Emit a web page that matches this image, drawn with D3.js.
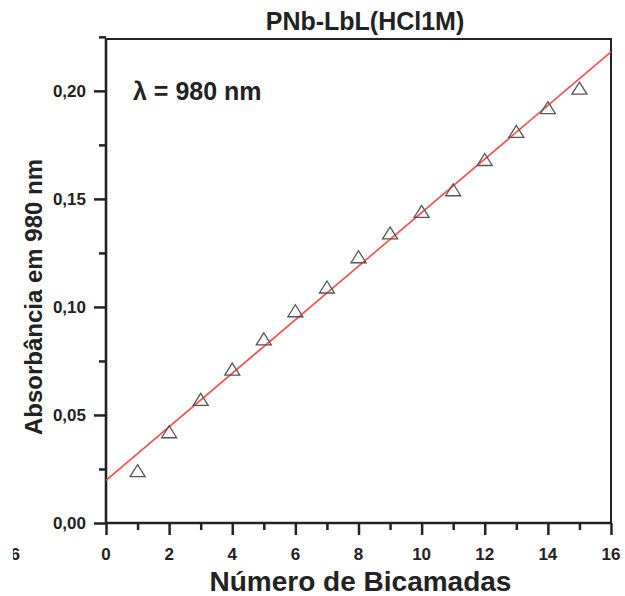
<!DOCTYPE html>
<meta charset="utf-8">
<script src="https://d3js.org/d3.v7.min.js"></script>
<style>
  body { margin: 0; background: #fff; }
  text { font-family: 'Liberation Sans', Arial, sans-serif; font-weight: bold; fill: #222; }
</style>
<body>
<div id="my_dataviz"></div>
<script>

// data
var bilayers   = [1, 2, 3, 4, 5, 6, 7, 8, 9, 10, 11, 12, 13, 14, 15];
var absorbance = [0.024, 0.042, 0.057, 0.071, 0.085, 0.098, 0.109, 0.123,
                  0.134, 0.144, 0.154, 0.168, 0.181, 0.192, 0.201];
var xTicks = [0, 2, 4, 6, 8, 10, 12, 14, 16];
var yTicks = [0, 0.05, 0.10, 0.15, 0.20];

// set the dimensions and margins of the graph
var margin = {top: 39, right: 14, bottom: 73, left: 106},
    w = 625 - margin.left - margin.right,
    h = 596 - margin.top - margin.bottom;

var svg = d3.select("#my_dataviz")
  .append("svg")
    .attr("width", 625)
    .attr("height", 596)
  .append("g")
    .attr("transform", "translate(" + margin.left + "," + margin.top + ")");

var x = d3.scaleLinear().domain([0, 16]).range([0, w]);
var y = d3.scaleLinear().domain([0, 0.224]).range([h, 0]);

// linear fit (least squares) of the points
var mx = d3.mean(bilayers), my = d3.mean(absorbance);
var sxy = d3.sum(bilayers, function(d, i) { return (d - mx) * (absorbance[i] - my); });
var sxx = d3.sum(bilayers, function(d) { return (d - mx) * (d - mx); });
var slope = sxy / sxx, intercept = my - slope * mx;

// frame
svg.append("rect")
  .attr("x", 0).attr("y", 0)
  .attr("width", w).attr("height", h)
  .attr("fill", "none")
  .attr("stroke", "#222")
  .attr("stroke-width", 2);

// X axis
var xAxis = svg.append("g")
  .attr("transform", "translate(0," + h + ")")
  .call(d3.axisBottom(x).tickValues(d3.range(0, 17, 1)).tickSize(12).tickFormat(""));
xAxis.select(".domain").remove();
xAxis.selectAll(".tick line")
  .attr("y2", function(d) { return d % 2 === 0 ? 12 : 7; });
svg.append("g").selectAll("text")
  .data(xTicks)
  .enter().append("text")
    .attr("x", function(d) { return x(d); })
    .attr("y", h + 37)
    .attr("text-anchor", "middle")
    .style("font-size", "17px")
    .text(function(d) { return d; });

// Y axis
var yAxis = svg.append("g")
  .call(d3.axisLeft(y).tickValues(d3.range(0, 0.2251, 0.025)).tickSize(12).tickFormat(""));
yAxis.select(".domain").remove();
yAxis.selectAll(".tick line")
  .attr("x2", function(d, i) { return i % 2 === 0 ? -12 : -7; });
svg.append("g").selectAll("text")
  .data(yTicks)
  .enter().append("text")
    .attr("x", -20)
    .attr("y", function(d) { return y(d) + 6; })
    .attr("text-anchor", "end")
    .style("font-size", "17px")
    .text(function(d) { return d3.format(".2f")(d).replace(".", ","); });

svg.selectAll(".tick line")
  .attr("stroke", "#222")
  .attr("stroke-width", 2.5);

// axis lines
svg.append("line")
  .attr("x1", 0).attr("y1", 0).attr("x2", 0).attr("y2", h)
  .attr("stroke", "#222").attr("stroke-width", 2.6);
svg.append("line")
  .attr("x1", 0).attr("y1", h).attr("x2", w).attr("y2", h)
  .attr("stroke", "#222").attr("stroke-width", 2.6);

// fit line
svg.append("line")
  .attr("x1", x(0)).attr("y1", y(intercept))
  .attr("x2", x(16)).attr("y2", y(intercept + slope * 16))
  .attr("stroke", "#ff4a4a")
  .attr("stroke-width", 1.6);

// points (open triangles)
svg.append("g").selectAll("path")
  .data(bilayers)
  .enter().append("path")
    .attr("transform", function(d, i) { return "translate(" + x(d) + "," + y(absorbance[i]) + ")"; })
    .attr("d", "M0,-6.5L7.5,5.5L-7.5,5.5Z")
    .attr("fill", "none")
    .attr("stroke", "#555")
    .attr("stroke-width", 1.3);

// labels
svg.append("text")
  .attr("x", 259)
  .attr("y", -9)
  .attr("text-anchor", "middle")
  .style("font-size", "25px")
  .text("PNb-LbL(HCl1M)");

svg.append("text")
  .attr("x", 27)
  .attr("y", 61)
  .style("font-size", "25px")
  .text("λ = 980 nm");

svg.append("text")
  .attr("x", w / 2 + 2)
  .attr("y", h + 68)
  .attr("text-anchor", "middle")
  .style("font-size", "28px")
  .text("Número de Bicamadas");

svg.append("text")
  .attr("transform", "rotate(-90)")
  .attr("x", -258)
  .attr("y", -64)
  .attr("text-anchor", "middle")
  .style("font-size", "24px")
  .text("Absorbância em 980 nm");

// stray cut-off digit at the left edge
d3.select("svg").append("clipPath").attr("id", "edge")
  .append("rect").attr("x", 13).attr("y", 530).attr("width", 20).attr("height", 40);
d3.select("svg").append("text")
  .attr("clip-path", "url(#edge)")
  .attr("x", 20)
  .attr("y", 560)
  .attr("text-anchor", "end")
  .style("font-size", "17px")
  .text("6");

</script>
</body>
